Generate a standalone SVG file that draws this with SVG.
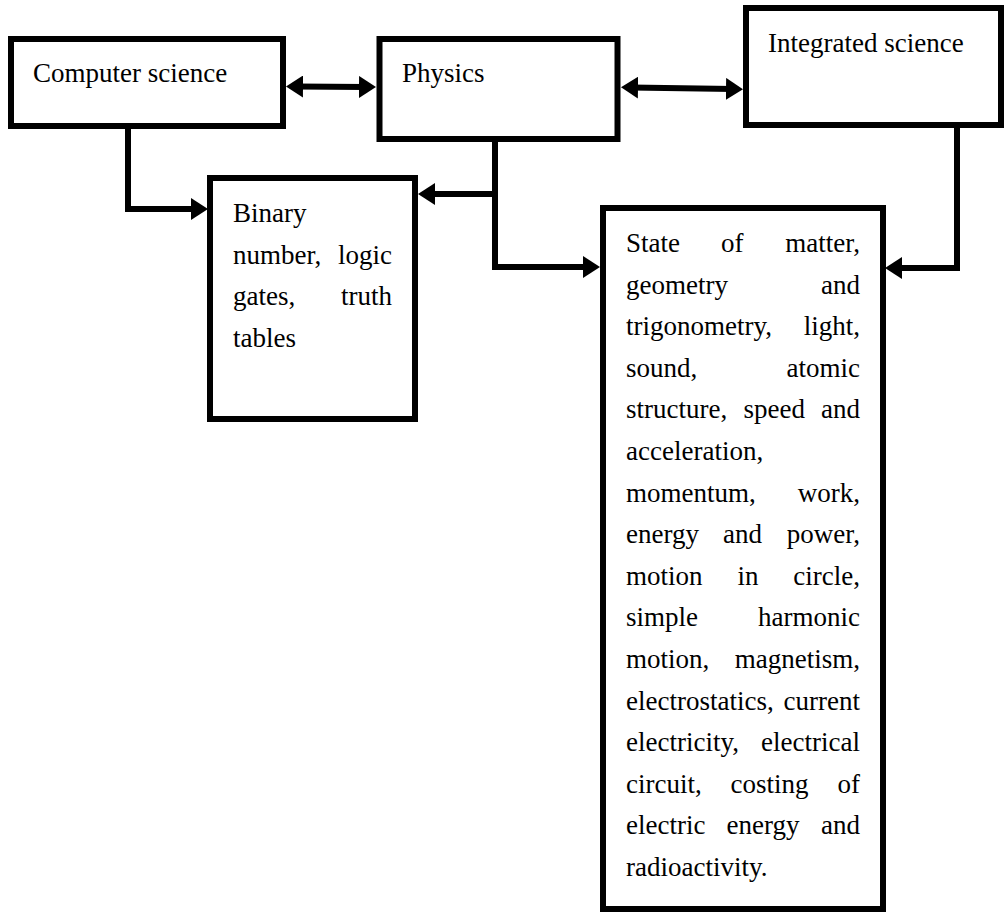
<svg xmlns="http://www.w3.org/2000/svg" width="1007" height="913" viewBox="0 0 1007 913">
<style>
.box{fill:#fff;stroke:#000;stroke-width:6}
.t{font-family:"Liberation Serif","Times New Roman",serif;font-size:27px;fill:#000}
.e{text-anchor:end}
.c{fill:none;stroke:#000;stroke-width:6;stroke-linejoin:miter}
</style>
<defs>
<marker id="ah" viewBox="0 0 17 22" refX="7" refY="11" markerWidth="17" markerHeight="22" markerUnits="userSpaceOnUse" orient="auto-start-reverse">
<path d="M0,0 L17,11 L0,22 z" fill="#000"/>
</marker>
</defs>
<rect width="1007" height="913" fill="#fff"/>
<g id="connectors">
<path class="c" d="M296,86.5 L366,87" marker-start="url(#ah)" marker-end="url(#ah)"/>
<path class="c" d="M631,87.5 L733,89" marker-start="url(#ah)" marker-end="url(#ah)"/>
<path class="c" d="M128,129 V209 H198" marker-end="url(#ah)"/>
<path class="c" d="M495,142 V267 H590" marker-end="url(#ah)"/>
<path class="c" d="M495,194 H428" marker-end="url(#ah)"/>
<path class="c" d="M957,128 V268 H895" marker-end="url(#ah)"/>
</g>
<g id="computer-science">
<rect class="box" x="11" y="39" width="272" height="87"/>
<text class="t" x="33" y="82">Computer science</text>
</g>
<g id="physics">
<rect class="box" x="379.5" y="39" width="238" height="100"/>
<text class="t" x="402" y="82">Physics</text>
</g>
<g id="integrated-science">
<rect class="box" x="746" y="8" width="255" height="117"/>
<text class="t" x="768" y="52">Integrated science</text>
</g>
<g id="binary">
<rect class="box" x="210" y="178" width="205" height="241"/>
<text class="t" x="233" y="222">Binary</text>
<text class="t" x="233" y="263.5">number,</text><text class="t e" x="392" y="263.5">logic</text>
<text class="t" x="233" y="305">gates,</text><text class="t e" x="392" y="305">truth</text>
<text class="t" x="233" y="346.5">tables</text>
</g>
<g id="physics-topics">
<rect class="box" x="603" y="208" width="280" height="701"/>
<text class="t" x="626" y="252">State</text><text class="t" x="721" y="252">of</text><text class="t e" x="860" y="252">matter,</text>
<text class="t" x="626" y="293.6">geometry</text><text class="t e" x="860" y="293.6">and</text>
<text class="t" x="626" y="335.2">trigonometry,</text><text class="t e" x="860" y="335.2">light,</text>
<text class="t" x="626" y="376.8">sound,</text><text class="t e" x="860" y="376.8">atomic</text>
<text class="t" x="626" y="418.4">structure,</text><text class="t" x="743.5" y="418.4">speed</text><text class="t e" x="860" y="418.4">and</text>
<text class="t" x="626" y="460">acceleration,</text>
<text class="t" x="626" y="501.6">momentum,</text><text class="t e" x="860" y="501.6">work,</text>
<text class="t" x="626" y="543.2">energy</text><text class="t" x="723" y="543.2">and</text><text class="t e" x="860" y="543.2">power,</text>
<text class="t" x="626" y="584.8">motion</text><text class="t" x="737.5" y="584.8">in</text><text class="t e" x="860" y="584.8">circle,</text>
<text class="t" x="626" y="626.4">simple</text><text class="t e" x="860" y="626.4">harmonic</text>
<text class="t" x="626" y="668">motion,</text><text class="t e" x="860" y="668">magnetism,</text>
<text class="t" x="626" y="709.6">electrostatics,</text><text class="t e" x="860" y="709.6">current</text>
<text class="t" x="626" y="751.2">electricity,</text><text class="t e" x="860" y="751.2">electrical</text>
<text class="t" x="626" y="792.8">circuit,</text><text class="t" x="730.5" y="792.8">costing</text><text class="t e" x="860" y="792.8">of</text>
<text class="t" x="626" y="834.4">electric</text><text class="t" x="726.5" y="834.4">energy</text><text class="t e" x="860" y="834.4">and</text>
<text class="t" x="626" y="876">radioactivity.</text>
</g>
</svg>
